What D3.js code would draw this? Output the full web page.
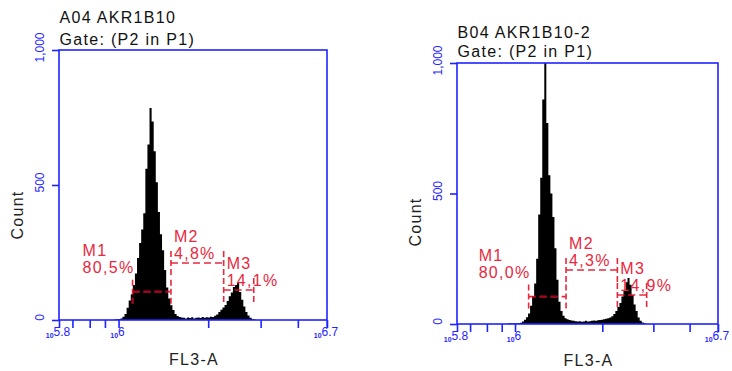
<!DOCTYPE html>
<html>
<head>
<meta charset="utf-8">
<script src="https://cdn.jsdelivr.net/npm/d3@7"></script>
<style>
  html, body { margin: 0; padding: 0; background: #fff; }
  svg { display: block; }
  text { font-family: "Liberation Sans", Arial, sans-serif; }
</style>
</head>
<body>
<svg id="chart" width="732" height="371"></svg>
<script>
// ---- data ----
const xDomainExp = [5.8, 6.7];                 // FL3-A, log10 decades
const xLabeledExps = [5.8, 6, 6.7];
const xLabeledText = ["5.8", "6", "6.7"];
const xMinorTicks = [7e5, 8e5, 9e5, 2e6, 3e6, 4e6, 5e6];
const yDomain = [0, 1000];
const yTicks = [0, 500, 1000];
const yTickLabels = ["0", "500", "1,000"];
const binWidthExp = 0.007;

const titlesA = ["A04 AKR1B10", "Gate: (P2 in P1)"];
const titlesB = ["B04 AKR1B10-2", "Gate: (P2 in P1)"];

const binStartA = 5.985;
const countsA = [
  2, 3, 4, 6, 12, 22, 45, 72, 95, 130, 172, 230, 285, 335, 395, 560, 650, 785,
  735, 625, 510, 400, 318, 258, 185, 120, 80, 55, 37, 22, 15, 11, 9,
  8, 6, 9, 7, 10, 6, 8, 9, 7, 11, 8, 10, 9, 12, 11,
  16, 20, 30, 38, 46, 56, 70, 88, 102, 122, 130, 137, 104, 75, 50, 30, 17, 8, 4, 2
];

const binStartB = 5.975;
const countsB = [
  2, 3, 2, 3, 2,
  3, 5, 10, 16, 26, 40, 70, 105, 155, 250, 420, 560, 860, 1000, 770, 570, 500,
  410, 290, 170, 85, 50, 32, 22, 18, 15, 13, 12,
  11, 10, 11, 9, 10, 12, 10, 11, 12, 13, 12, 14, 15,
  16, 18, 20, 22, 25, 30, 38, 50, 65, 80, 105, 130, 160, 176, 150, 110, 75, 50, 25, 12, 6, 3
];

const markerNames = ["M1", "M2", "M3"];
const markerRangesExp = [[6.047, 6.176], [6.176, 6.353], [6.353, 6.454]];
const markerHeightsA = [105, 211, 111];
const markerHeightsB = [105, 207, 111];
const markerPctA = ["80,5%", "4,8%", "14,1%"];
const markerPctB = ["80,0%", "4,3%", "14,9%"];

// ---- drawing ----
const BLUE = "#1f24ff";
const RED = "#e8283e";
const DARK_RED = "#a8001c";
const svg = d3.select("#chart");

function drawPanel(cfg) {
  const { box, titles, titleY, countY, axisTitleY, binStart, counts, heights, pcts, id } = cfg;
  const g = svg.append("g");

  const x = d3.scaleLog()
    .domain(xDomainExp.map(e => Math.pow(10, e)))
    .range([box.x0, box.x1]);
  const y = d3.scaleLinear().domain(yDomain).range([box.y1, box.y0]);

  // titles
  titles.forEach((t, i) => {
    g.append("text")
      .attr("x", box.x0 + 0.5).attr("y", titleY[i])
      .attr("font-size", 16).attr("letter-spacing", 1.3)
      .attr("fill", "#111").text(t);
  });

  // clip to plot area
  const clipId = "clip-" + id;
  svg.append("defs").append("clipPath").attr("id", clipId)
    .append("rect")
    .attr("x", box.x0).attr("y", box.y0 - 1)
    .attr("width", box.x1 - box.x0).attr("height", box.y1 - box.y0 + 1);

  // histogram as a stepped area
  const pts = counts.map((c, i) => ({ e: binStart + i * binWidthExp, c }));
  pts.push({ e: binStart + counts.length * binWidthExp, c: 0 });
  const area = d3.area()
    .curve(d3.curveStepAfter)
    .x(d => x(Math.pow(10, d.e)))
    .y0(y(0))
    .y1(d => y(d.c));
  const histPath = area(pts);
  g.append("path")
    .attr("d", histPath)
    .attr("fill", "#000")
    .attr("clip-path", `url(#${clipId})`);

  const histClipId = "hist-" + id;
  svg.select("defs").append("clipPath").attr("id", histClipId)
    .append("path").attr("d", histPath);

  // markers: dashed range line with end bars
  const barHalf = 12;
  function markerLines(sel, color) {
    markerRangesExp.forEach((r, i) => {
      const xa = x(Math.pow(10, r[0]));
      const xb = x(Math.pow(10, r[1]));
      const yh = y(heights[i]);
      sel.append("line")
        .attr("x1", xa).attr("x2", xb).attr("y1", yh).attr("y2", yh)
        .attr("stroke", color).attr("stroke-width", 1.6)
        .attr("stroke-dasharray", "7,4");
      [xa, xb].forEach(xv => {
        sel.append("line")
          .attr("x1", xv).attr("x2", xv)
          .attr("y1", yh - barHalf).attr("y2", yh + barHalf)
          .attr("stroke", color).attr("stroke-width", 1.6)
          .attr("stroke-dasharray", "6,3");
      });
    });
  }
  markerLines(g.append("g"), RED);
  markerLines(g.append("g").attr("clip-path", `url(#${histClipId})`), DARK_RED);

  // marker labels
  const labelOffsets = [
    { dx: -50, dy1: -36, dy2: -19 },
    { dx: 3, dy1: -21, dy2: -4 },
    { dx: 3, dy1: -21, dy2: -4 }
  ];
  markerRangesExp.forEach((r, i) => {
    const xa = x(Math.pow(10, r[0]));
    const yh = y(heights[i]);
    const o = labelOffsets[i];
    [markerNames[i], pcts[i]].forEach((t, k) => {
      g.append("text")
        .attr("x", xa + o.dx).attr("y", yh + (k === 0 ? o.dy1 : o.dy2))
        .attr("font-size", 16).attr("letter-spacing", 1.3)
        .attr("fill", RED).text(t);
    });
  });

  // frame
  g.append("rect")
    .attr("x", box.x0).attr("y", box.y0)
    .attr("width", box.x1 - box.x0).attr("height", box.y1 - box.y0)
    .attr("fill", "none").attr("stroke", BLUE).attr("stroke-width", 1.6);

  // y axis
  const yAxis = d3.axisLeft(y)
    .tickValues(yTicks)
    .tickSize(7)
    .tickFormat((d, i) => yTickLabels[i]);
  const ya = g.append("g").attr("transform", `translate(${box.x0},0)`).call(yAxis);
  ya.select(".domain").remove();
  ya.selectAll(".tick line").attr("stroke", BLUE).attr("stroke-width", 1.6);
  ya.selectAll(".tick text")
    .attr("fill", BLUE).attr("font-size", 12)
    .attr("font-family", "Liberation Sans, Arial, sans-serif")
    .attr("transform", "rotate(-90)")
    .attr("x", 3).attr("y", -19).attr("dy", "0.35em")
    .attr("text-anchor", "middle");

  // x axis ticks
  const xTickVals = xLabeledExps.map(e => Math.pow(10, e)).concat(xMinorTicks);
  const xAxis = d3.axisBottom(x).tickValues(xTickVals).tickSize(8).tickFormat("");
  const xa = g.append("g").attr("transform", `translate(0,${box.y1})`).call(xAxis);
  xa.select(".domain").remove();
  xa.selectAll(".tick line").attr("stroke", BLUE).attr("stroke-width", 1.6);

  // x tick labels: small base "10" with exponent
  xLabeledExps.forEach((e, i) => {
    const t = g.append("text")
      .attr("x", x(Math.pow(10, e)) - 1).attr("y", box.y1 + 16)
      .attr("text-anchor", "middle").attr("fill", BLUE);
    t.append("tspan").attr("font-size", 7).attr("font-weight", "bold")
      .attr("dy", 2).text("10");
    t.append("tspan").attr("font-size", 12).attr("dy", -2).text(xLabeledText[i]);
  });

  // axis titles
  g.append("text")
    .attr("x", (box.x0 + box.x1) / 2 + 1).attr("y", axisTitleY)
    .attr("text-anchor", "middle").attr("font-size", 16)
    .attr("letter-spacing", 1.3).attr("fill", "#222").text("FL3-A");
  g.append("text")
    .attr("transform", `translate(${box.x0 - 36},${countY}) rotate(-90)`)
    .attr("text-anchor", "middle").attr("font-size", 16)
    .attr("letter-spacing", 1.3).attr("fill", "#222").text("Count");
}

drawPanel({
  id: "a",
  box: { x0: 59, x1: 327, y0: 50, y1: 320 },
  titles: titlesA, titleY: [23, 44.5], countY: 215, axisTitleY: 365,
  binStart: binStartA, counts: countsA,
  heights: markerHeightsA, pcts: markerPctA
});
drawPanel({
  id: "b",
  box: { x0: 457, x1: 718, y0: 63, y1: 324 },
  titles: titlesB, titleY: [38, 56.5], countY: 222, axisTitleY: 366,
  binStart: binStartB, counts: countsB,
  heights: markerHeightsB, pcts: markerPctB
});
</script>
</body>
</html>
